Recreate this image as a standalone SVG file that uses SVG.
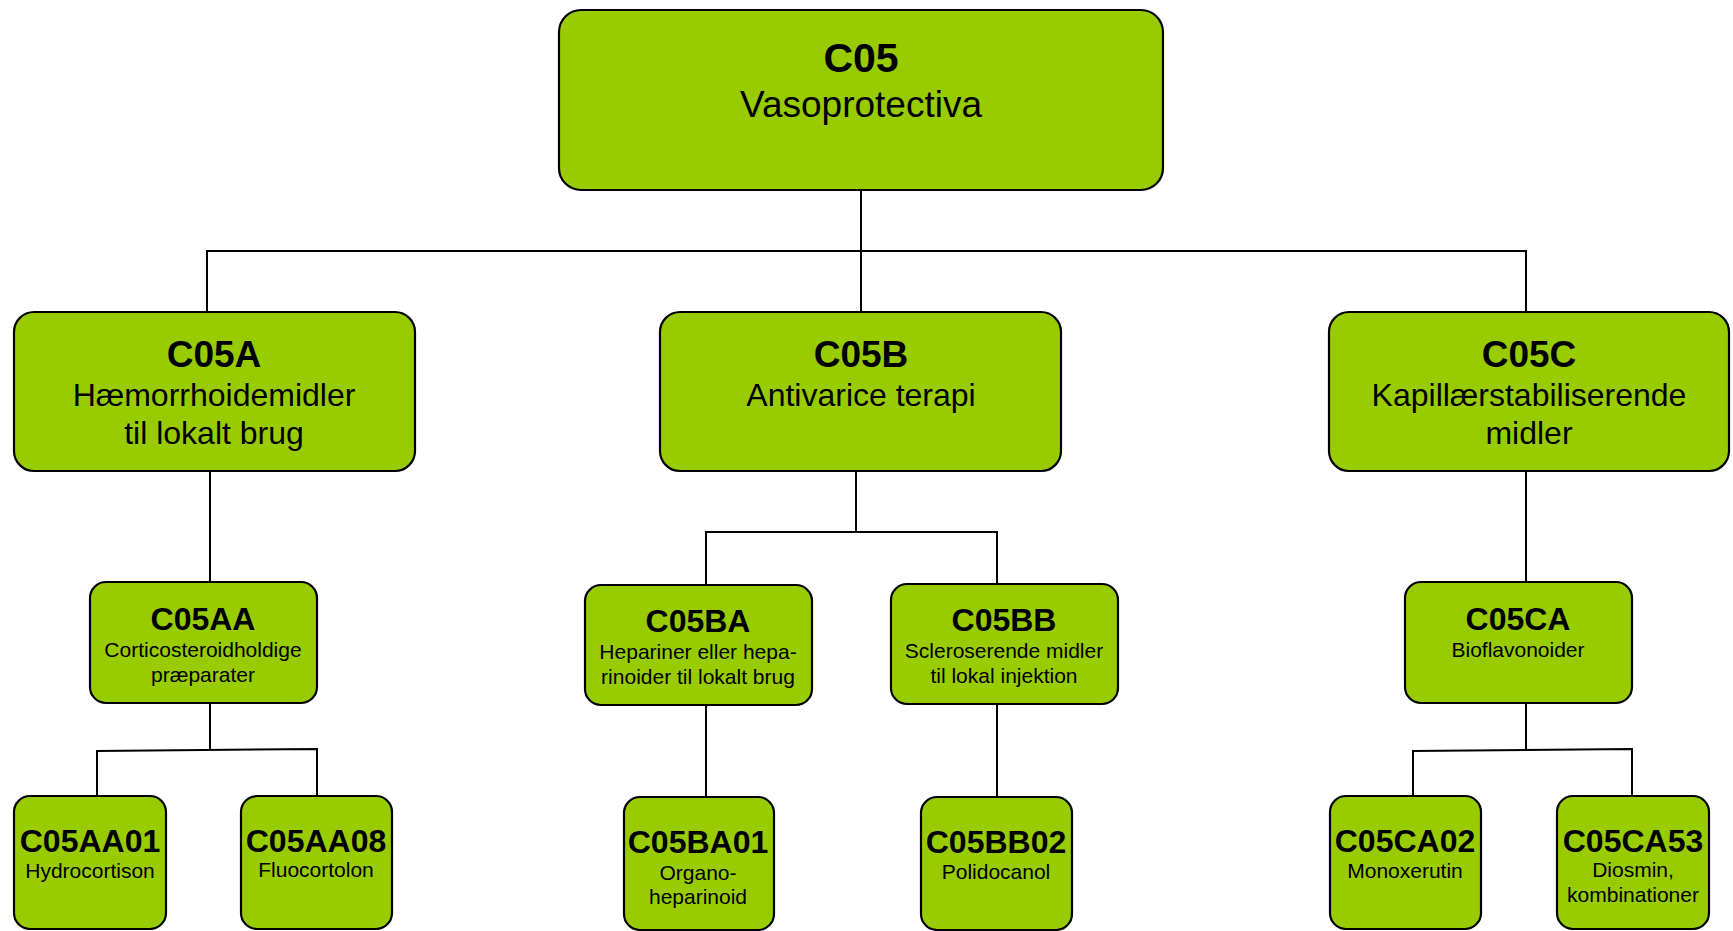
<svg xmlns="http://www.w3.org/2000/svg" width="1733" height="931" viewBox="0 0 1733 931">
<style>
.box{fill:#99cc00;stroke:#000;stroke-width:2.2}
.t{font-family:"Liberation Sans",Arial,sans-serif;text-anchor:middle;fill:#000}
.b0{font-size:41px;font-weight:bold}
.r0{font-size:37px}
.b1{font-size:37px;font-weight:bold}
.r1{font-size:32px}
.b2{font-size:32px;font-weight:bold}
.r2{font-size:21px}
.conn{fill:none;stroke:#000;stroke-width:2}
</style>
<rect width="1733" height="931" fill="#fff"/>
<g id="connectors">
<path class="conn" d="M861,190 V312 M207,312 V251 H1526 V312"/>
<path class="conn" d="M210,471 V582"/>
<path class="conn" d="M856,471 V532 M706,585 V532 H997 V584"/>
<path class="conn" d="M1526,471 V582"/>
<path class="conn" d="M210,703 V749 M97,796 V751 L317,749 V796"/>
<path class="conn" d="M706,705 V797"/>
<path class="conn" d="M997,704 V797"/>
<path class="conn" d="M1526,703 V749 M1413,796 V751 L1632,749 V796"/>
</g>
<g id="C05">
<rect class="box" x="559" y="10" width="604" height="180" rx="22"/>
<text class="t b0" x="861" y="72">C05</text>
<text class="t r0" x="861" y="117">Vasoprotectiva</text>
</g>
<g id="C05A">
<rect class="box" x="14" y="312" width="401" height="159" rx="20"/>
<text class="t b1" x="214" y="367">C05A</text>
<text class="t r1" x="214" y="406">Hæmorrhoidemidler</text>
<text class="t r1" x="214" y="444">til lokalt brug</text>
</g>
<g id="C05B">
<rect class="box" x="660" y="312" width="401" height="159" rx="20"/>
<text class="t b1" x="861" y="367">C05B</text>
<text class="t r1" x="861" y="406">Antivarice terapi</text>
</g>
<g id="C05C">
<rect class="box" x="1329" y="312" width="400" height="159" rx="20"/>
<text class="t b1" x="1529" y="367">C05C</text>
<text class="t r1" x="1529" y="406">Kapillærstabiliserende</text>
<text class="t r1" x="1529" y="444">midler</text>
</g>
<g id="C05AA">
<rect class="box" x="90" y="582" width="227" height="121" rx="16"/>
<text class="t b2" x="203" y="630">C05AA</text>
<text class="t r2" x="203" y="657">Corticosteroidholdige</text>
<text class="t r2" x="203" y="682">præparater</text>
</g>
<g id="C05BA">
<rect class="box" x="585" y="585" width="227" height="120" rx="16"/>
<text class="t b2" x="698" y="632">C05BA</text>
<text class="t r2" x="698" y="659">Hepariner eller hepa-</text>
<text class="t r2" x="698" y="684">rinoider til lokalt brug</text>
</g>
<g id="C05BB">
<rect class="box" x="891" y="584" width="227" height="120" rx="16"/>
<text class="t b2" x="1004" y="631">C05BB</text>
<text class="t r2" x="1004" y="658">Scleroserende midler</text>
<text class="t r2" x="1004" y="683">til lokal injektion</text>
</g>
<g id="C05CA">
<rect class="box" x="1405" y="582" width="227" height="121" rx="16"/>
<text class="t b2" x="1518" y="630">C05CA</text>
<text class="t r2" x="1518" y="657">Bioflavonoider</text>
</g>
<g id="C05AA01">
<rect class="box" x="14" y="796" width="152" height="133" rx="16"/>
<text class="t b2" x="90" y="852">C05AA01</text>
<text class="t r2" x="90" y="878">Hydrocortison</text>
</g>
<g id="C05AA08">
<rect class="box" x="241" y="796" width="151" height="133" rx="16"/>
<text class="t b2" x="316" y="852">C05AA08</text>
<text class="t r2" x="316" y="877">Fluocortolon</text>
</g>
<g id="C05BA01">
<rect class="box" x="624" y="797" width="150" height="133" rx="16"/>
<text class="t b2" x="698" y="853">C05BA01</text>
<text class="t r2" x="698" y="880">Organo-</text>
<text class="t r2" x="698" y="904">heparinoid</text>
</g>
<g id="C05BB02">
<rect class="box" x="921" y="797" width="151" height="133" rx="16"/>
<text class="t b2" x="996" y="853">C05BB02</text>
<text class="t r2" x="996" y="879">Polidocanol</text>
</g>
<g id="C05CA02">
<rect class="box" x="1330" y="796" width="151" height="133" rx="16"/>
<text class="t b2" x="1405" y="852">C05CA02</text>
<text class="t r2" x="1405" y="878">Monoxerutin</text>
</g>
<g id="C05CA53">
<rect class="box" x="1557" y="796" width="152" height="133" rx="16"/>
<text class="t b2" x="1633" y="852">C05CA53</text>
<text class="t r2" x="1633" y="877">Diosmin,</text>
<text class="t r2" x="1633" y="902">kombinationer</text>
</g>
</svg>
